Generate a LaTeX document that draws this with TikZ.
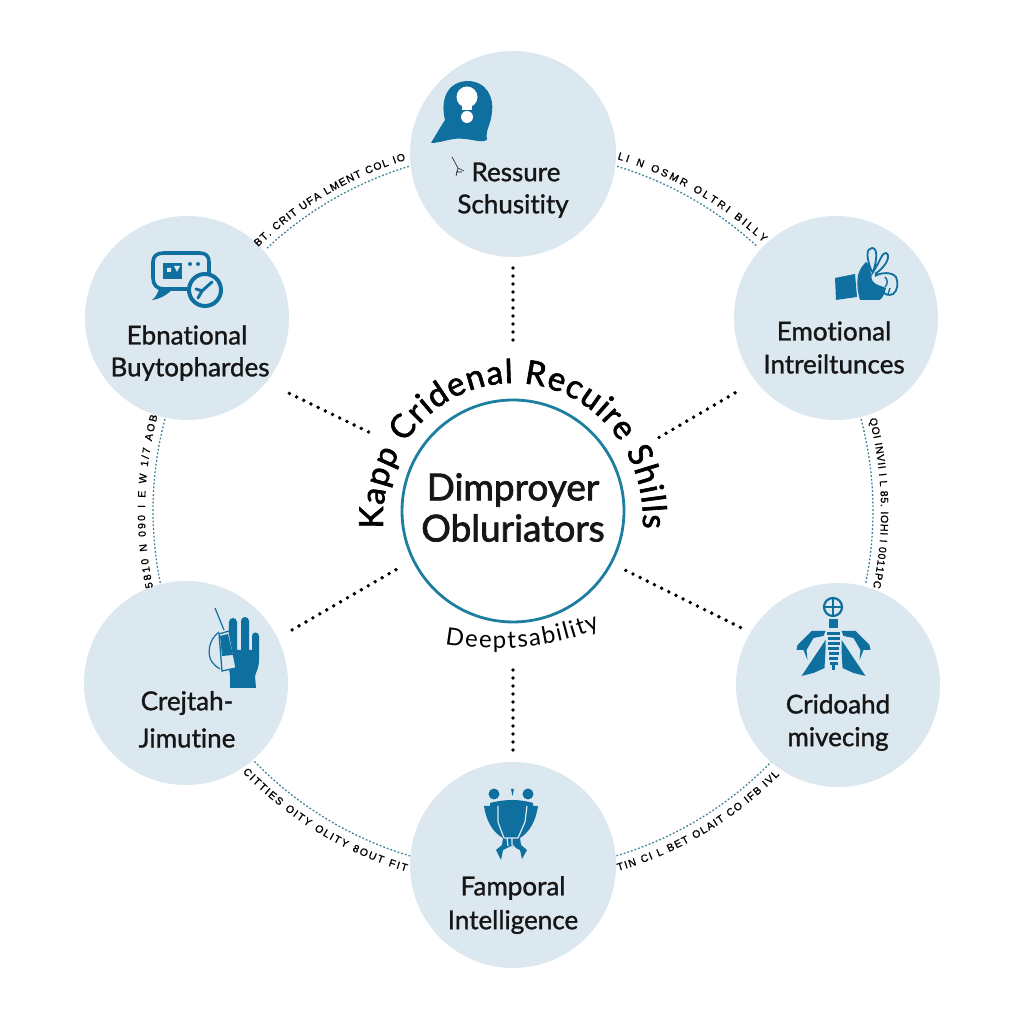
\documentclass[tikz,border=0pt]{standalone}
\usepackage{fontspec}
\setmainfont{Lato}
\newfontfamily\medfont[FakeBold=1.2,Ligatures=NoCommon]{Lato}
\newfontfamily\hubfont[FakeBold=2,Ligatures=NoCommon]{Lato}
\newfontfamily\smallfont[FakeBold=1]{Liberation Sans}
\usetikzlibrary{decorations.text}
\definecolor{discc}{HTML}{DCE8EF}
\definecolor{icblue}{HTML}{0F6F9F}
\definecolor{hubc}{HTML}{1C7F9F}
\definecolor{ringc}{HTML}{3F8199}
\definecolor{ink}{HTML}{161616}
\tikzset{
  x=1pt,y=1pt,
  discnode/.style={circle,fill=discc,draw=none,minimum size=#1,inner sep=0pt,outer sep=0pt},
  lab/.style={font=\fontsize{26}{26}\selectfont\medfont,text=ink,inner sep=0pt,anchor=center},
  hublab/.style={font=\fontsize{37}{37}\selectfont\hubfont,text=ink,inner sep=0pt,anchor=center},
  link/.style={draw=black,line width=3.9pt,line cap=round,dash pattern=on 0pt off 8pt},
  ringline/.style={draw=ringc,line width=1.3pt,dash pattern=on 1.8pt off 2pt},
  ic/.style={fill=icblue,draw=none},
  icl/.style={draw=icblue,fill=none},
  arcsmall/.style={decorate,decoration={text along path,text align={fit to path},
     text={|\fontsize{10.5}{10.5}\selectfont\smallfont|#1}}},
}
\begin{document}
\begin{tikzpicture}
\useasboundingbox (0,0) rectangle (1024,1024);
\fill[white] (0,0) rectangle (1024,1024);

% dotted ring
\foreach \a/\b in {133.1/106.8,191.5/164.7,253.4/223.8,-73.3/-44.1,15.4/-11.6,73.2/47.3}
  \draw[ringline] ({513+360*cos(\a)},{513+360*sin(\a)}) arc[start angle=\a,end angle=\b,radius=360];

% nodes
\node[discnode=206pt] (top) at (513,870) {};
\node[discnode=204pt] (ul) at (187,706) {};
\node[discnode=204pt] (ur) at (836,706) {};
\node[discnode=204pt] (ll) at (186,341) {};
\node[discnode=204pt] (lr) at (838,339) {};
\node[discnode=206pt] (bot) at (513,159) {};
\node[circle,draw=hubc,line width=2.8pt,minimum size=222pt,inner sep=0pt,outer sep=0pt,fill=white] (hub) at (513,513) {};

% connectors
\draw[link,shorten <=60pt,shorten >=5pt] (hub.90) -- (top.270);
\draw[link,shorten <=48pt,shorten >=7pt] (hub.270) -- (bot.90);
\draw[link,shorten <=53.8pt,shorten >=23.5pt] (hub.150.8) -- (ul.321.6);
\draw[link,shorten <=52.8pt,shorten >=20.8pt] (hub.25.2) -- (ur.218.5);
\draw[link,shorten <=20pt,shorten >=15.6pt] (hub.206) -- (ll.26.3);
\draw[link,shorten <=16.5pt,shorten >=9.5pt] (hub.332.8) -- (lr.149);

% arc small texts
\path[arcsmall={BT. CRIT UFA LMENT COL IO}] ({513+367*cos(134)},{513+367*sin(134)}) arc[start angle=134,end angle=107,radius=367];
\path[arcsmall={LI N OSMR OLTRI BILLY}] ({513+367*cos(73.5)},{513+367*sin(73.5)}) arc[start angle=73.5,end angle=47,radius=367];
\path[arcsmall={5810 N 090 I E W 1/7 AOB}] ({513+368*cos(192)},{513+368*sin(192)}) arc[start angle=192,end angle=165,radius=368];
\path[arcsmall={QOI INVII I L 85. IOHI I 0011PC}] ({513+368*cos(14.5)},{513+368*sin(14.5)}) arc[start angle=14.5,end angle=-12,radius=368];
\path[arcsmall={CITTIES OITY OLITY 8OUT FIT}] ({513+376*cos(224)},{513+376*sin(224)}) arc[start angle=224,end angle=253.5,radius=376];
\path[arcsmall={TIN CI L BET OLAIT CO IFB IVL}] ({513+375*cos(-73.7)},{513+375*sin(-73.7)}) arc[start angle=-73.7,end angle=-44.7,radius=375];

% hub texts
\path[decorate,decoration={text along path,text align={fit to path},
  text={|\fontsize{33}{33}\selectfont\hubfont|Kapp Cridenal Recuire Shills}}]
  (383.3,495.5) arc[start angle=184,end angle=-4,x radius=130,y radius=136];
\path[decorate,decoration={text along path,text align={fit to path},
  text={|\fontsize{24}{24}\selectfont|Deeptsability}}]
  (445,380) .. controls (490,372) and (550,374) .. (600,396);
\node[hublab] (h1) at (513,534) {Dimproyer};
\node[hublab] (h2) at (513,496) {Obluriators};

% labels
\node[lab] (t1) at (516,852) {Ressure};
\node[lab] (t2) at (513,818) {Schusitity};
\node[lab] (a1) at (187,689) {Ebnational};
\node[lab] (a2) at (190,655) {Buytophardes};
\node[lab] (b1) at (834,693) {Emotional};
\node[lab] (b2) at (834,660) {Intreiltunces};
\node[lab] (c1) at (187,321) {Crejtah-};
\node[lab] (c2) at (187,286) {Jimutine};
\node[lab] (d1) at (838,320) {Cridoahd};
\node[lab] (d2) at (838,285) {mivecing};
\node[lab] (e1) at (513,136) {Famporal};
\node[lab] (e2) at (513,102) {Intelligence};

% icons, in image coordinates
\begin{scope}[shift={(0,1024)},yscale=-1]
% top
\fill[ic] (431,143) .. controls (437,133) and (441,126) .. (445,120) .. controls (440,100) and (447,82) .. (467,81) .. controls (487,81) and (494,98) .. (492,112) .. controls (491,125) and (485,130) .. (487,140) .. controls (483,143) and (475,140) .. (465,139) .. controls (452,137) and (442,143) .. (431,143) -- cycle;
\fill[white] (467,97) circle (10.5);
\fill[white] (462,103) rectangle (472,110);
\fill[white] (467,117) circle (6);
\draw[ink,line width=.6pt] (452,157) -- (458,168) -- (464,171) (458,168) -- (456,176) (456,172) -- (462,172);
% upper left
\fill[ic] (152,300) .. controls (157,296) and (158,292) .. (160,286) -- (172,290) .. controls (165,296) and (160,299) .. (152,300) -- cycle;
\draw[icl,line width=3.6pt,fill=discc] (164,253) -- (199,253) .. controls (206,253) and (209,256) .. (209,262) -- (209,278) .. controls (209,285) and (205,289) .. (199,289) -- (164,289) .. controls (157,289) and (153,285) .. (153,278) -- (153,262) .. controls (153,256) and (157,253) .. (164,253) -- cycle;
\fill[ic] (163,263) rectangle (182,279);
\fill[discc] (167,268) rectangle (171,272) (174,266) -- (180,266) -- (177,272) -- cycle;
\fill[ic] (190,264) circle (2) (198,264) circle (2);
\draw[icl,line width=4pt,fill=discc] (205,290) circle (16);
\draw[icl,line width=3pt,line cap=round] (198,298) -- (202,291) -- (212,282) (196,289) -- (202,291);
% upper right
\fill[ic] (835,278) -- (855,274) -- (857,297) -- (836,300) -- cycle;
\fill[ic] (858,275) .. controls (860,268) and (864,264) .. (866,262) .. controls (871,264) and (870,272) .. (872,280) .. controls (874,285) and (882,286) .. (886,288) .. controls (885,293) and (882,300) .. (879,300) -- (860,300) .. controls (857,290) and (857,282) .. (858,275) -- cycle;
\draw[icl,line width=1.8pt] (872,272) .. controls (866,258) and (866,248) .. (872,248) .. controls (878,248) and (877,260) .. (873,272)
  .. controls (880,262) and (882,252) .. (886,253) .. controls (891,255) and (887,266) .. (875,274)
  (875,276) .. controls (882,272) and (892,272) .. (896,277) .. controls (899,283) and (897,292) .. (893,294) .. controls (889,296) and (884,295) .. (882,290);
\draw[icl,line width=1.4pt] (885,277) .. controls (888,280) and (888,284) .. (885,287) (888,294) -- (890,288);
% lower left
\fill[ic] (229,622) -- (237,622) -- (237,650) -- (241,650) -- (241,621) -- (249,621) -- (249,650) -- (252,650) -- (252,636) -- (259,636) -- (259,660) .. controls (259,668) and (256,672) .. (255,676) -- (256,688) -- (230,688) -- (230,676) -- (228,660) -- cycle;
\fill[ic] (233,622) circle (4) (245,621) circle (4) (255.5,636) circle (3.5);
\draw[draw=icblue,line width=1.2pt] (215,608) -- (224,630);
\draw[draw=icblue,line width=1.2pt] (219,632) .. controls (208,640) and (207,655) .. (212,662) .. controls (214,665) and (217,667) .. (220,669);
\draw[draw=icblue,line width=1.3pt,fill=discc] (219,634) -- (229,631) -- (236,668) -- (222,671) -- cycle;
\fill[ic] (220,636) -- (228,634) -- (233,655) -- (222,656) -- cycle;
% lower right
\draw[icl,line width=2.2pt,fill=discc] (833,607) circle (9);
\draw[icl,line width=1.5pt] (824,607) -- (842,607) (833,598) -- (833,616);
\fill[ic] (829,619) -- (838,619) -- (838,628) -- (829,628) -- cycle;
\foreach \y/\w in {632/6.5,637/6,642/6,647/5.5,652/5,657/4.5,662/4} { \fill[ic] (833.5-\w,\y) rectangle (833.5+\w,\y+3); }
\fill[ic] (832,664) rectangle (835,670);
\foreach \s in {1,-1} {
 \begin{scope}[shift={(833.5,0)},xscale=\s]
  \fill[ic] (-8,631) -- (-22,631) -- (-36,645) -- (-37,650) -- (-30,650) -- (-26,660) -- (-27,650) -- (-20,638) -- (-10,636) -- cycle;
  \fill[ic] (-8,640) -- (-32,676) -- (-20,673) -- (-9,668) -- (-8,650) -- cycle;
 \end{scope}
}
% bottom
\fill[ic] (494,794) circle (5.5) (528,794) circle (5.5);
\fill[ic] (511,789) -- (514,789) -- (512.5,796) -- cycle;
\fill[ic] (484,806) -- (538,806) .. controls (536,820) and (530,832) .. (520,838) -- (521,845) -- (527,850) -- (522,859) -- (520,850) -- (511,846) -- (503,850) -- (501,860) -- (496,850) -- (502,845) -- (503,838) .. controls (492,832) and (486,820) .. (484,806) -- cycle;
\fill[ic] (490,803) .. controls (505,799) and (520,799) .. (533,803) -- (533,806) -- (490,806) -- cycle;
\draw[draw=discc,line width=1.2pt] (498,806) -- (498,822) -- (504,838) (527,806) -- (525,822) -- (518,838)
  (507,838) -- (508,846) (512,838) -- (512,845) -- (519,852) (504,838) -- (518,838);
\end{scope}
\end{tikzpicture}
\end{document}
